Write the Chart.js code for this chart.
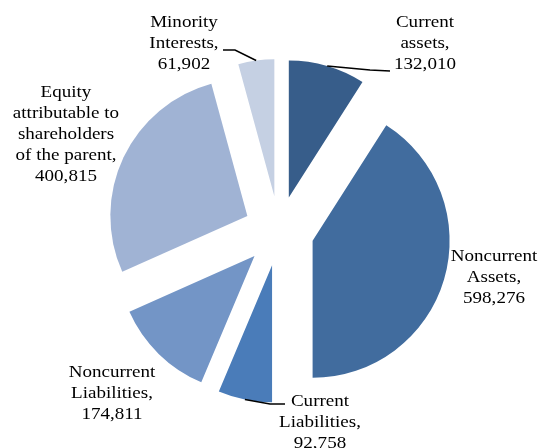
<!DOCTYPE html>
<html>
<head>
<meta charset="utf-8">
<script src="https://cdn.jsdelivr.net/npm/chart.js@4"></script>
<style>
  html, body { margin: 0; padding: 0; background: #ffffff; }
  #caja { width: 539px; height: 448px; position: relative; }
</style>
</head>
<body>
<div id="caja"><canvas id="graficaBalance"></canvas></div>
<script>
// =================== Data ===================

// Balance sheet items, clockwise from 12 o'clock
const categorias = [
  "Current assets",
  "Noncurrent Assets",
  "Current Liabilities",
  "Noncurrent Liabilities",
  "Equity attributable to shareholders of the parent",
  "Minority Interests"
];

// Values of each item
const valores = [132010, 598276, 92758, 174811, 400815, 61902];

// How each label is broken into lines (value goes on the last line)
const lineasEtiqueta = [
  ["Current", "assets,"],
  ["Noncurrent", "Assets,"],
  ["Current", "Liabilities,"],
  ["Noncurrent", "Liabilities,"],
  ["Equity", "attributable to", "shareholders", "of the parent,"],
  ["Minority", "Interests,"]
];

// Slice colours
const colores = ["#375d8a", "#416c9e", "#4a7cb9", "#7395c6", "#a0b3d4", "#c5d0e3"];


// =================== Layout ===================

const RADIO = 137;          // pie radius in px
const DESPLAZAMIENTO = 35;  // how far each slice is pulled out
const ALTO_LINEA = 21;      // line height of labels
const FUENTE = '17px "Liberation Serif", "Times New Roman", serif';
const ESTIRA_X = 1.12;      // the labels look a bit wide in the original

// label box: centre x and y of the first line
const posEtiqueta = [
  { x: 425, y: 23 },
  { x: 494, y: 257 },
  { x: 320, y: 402 },
  { x: 112, y: 373 },
  { x: 66,  y: 93 },
  { x: 184, y: 23 }
];

// leader lines: bend points after the arc point (null = no line)
const guias = [
  [[370, 70], [390, 71]],
  null,
  [[270, 404], [285, 404]],
  null,
  null,
  [[235, 50], [223, 50]]
];


// =================== Plugins ===================

// Pulls every slice out from the centre along its mid angle
const explotar = {
  id: "explotar",
  afterDatasetsUpdate(chart) {
    chart.getDatasetMeta(0).data.forEach(arc => {
      const a = (arc.startAngle + arc.endAngle) / 2;
      arc.x += Math.cos(a) * DESPLAZAMIENTO;
      arc.y += Math.sin(a) * DESPLAZAMIENTO;
    });
  }
};

// Draws the data labels and leader lines
const etiquetas = {
  id: "etiquetas",
  afterDatasetsDraw(chart) {
    const ctx = chart.ctx;
    const arcs = chart.getDatasetMeta(0).data;

    ctx.save();

    // leader lines start on the arc at the mid angle
    ctx.strokeStyle = "#000000";
    ctx.lineWidth = 1.5;
    arcs.forEach((arc, i) => {
      if (!guias[i]) return;
      const a = (arc.startAngle + arc.endAngle) / 2;
      ctx.beginPath();
      ctx.moveTo(arc.x + Math.cos(a) * arc.outerRadius, arc.y + Math.sin(a) * arc.outerRadius);
      guias[i].forEach(p => ctx.lineTo(p[0], p[1]));
      ctx.stroke();
    });

    // text
    ctx.fillStyle = "#000000";
    ctx.font = FUENTE;
    ctx.textAlign = "center";
    ctx.textBaseline = "middle";
    categorias.forEach((c, i) => {
      const lineas = lineasEtiqueta[i].concat(valores[i].toLocaleString("en-US"));
      lineas.forEach((txt, k) => {
        ctx.save();
        ctx.translate(posEtiqueta[i].x, posEtiqueta[i].y + k * ALTO_LINEA);
        ctx.scale(ESTIRA_X, 1);
        ctx.fillText(txt, 0, 0);
        ctx.restore();
      });
    });

    ctx.restore();
  }
};


// =================== Chart ===================

const ctxBalance = document.getElementById("graficaBalance").getContext("2d");

const chartBalance = new Chart(ctxBalance, {
  type: "pie",
  data: {
    labels: categorias,
    datasets: [{
      data: valores,
      backgroundColor: colores,
      borderWidth: 0
    }]
  },
  options: {
    responsive: true,
    maintainAspectRatio: false,
    animation: false,
    radius: RADIO,
    layout: { padding: { left: 19, top: 14, right: 0, bottom: 0 } },
    plugins: {
      legend: { display: false },
      tooltip: { enabled: false }
    }
  },
  plugins: [explotar, etiquetas]
});
</script>
</body>
</html>
